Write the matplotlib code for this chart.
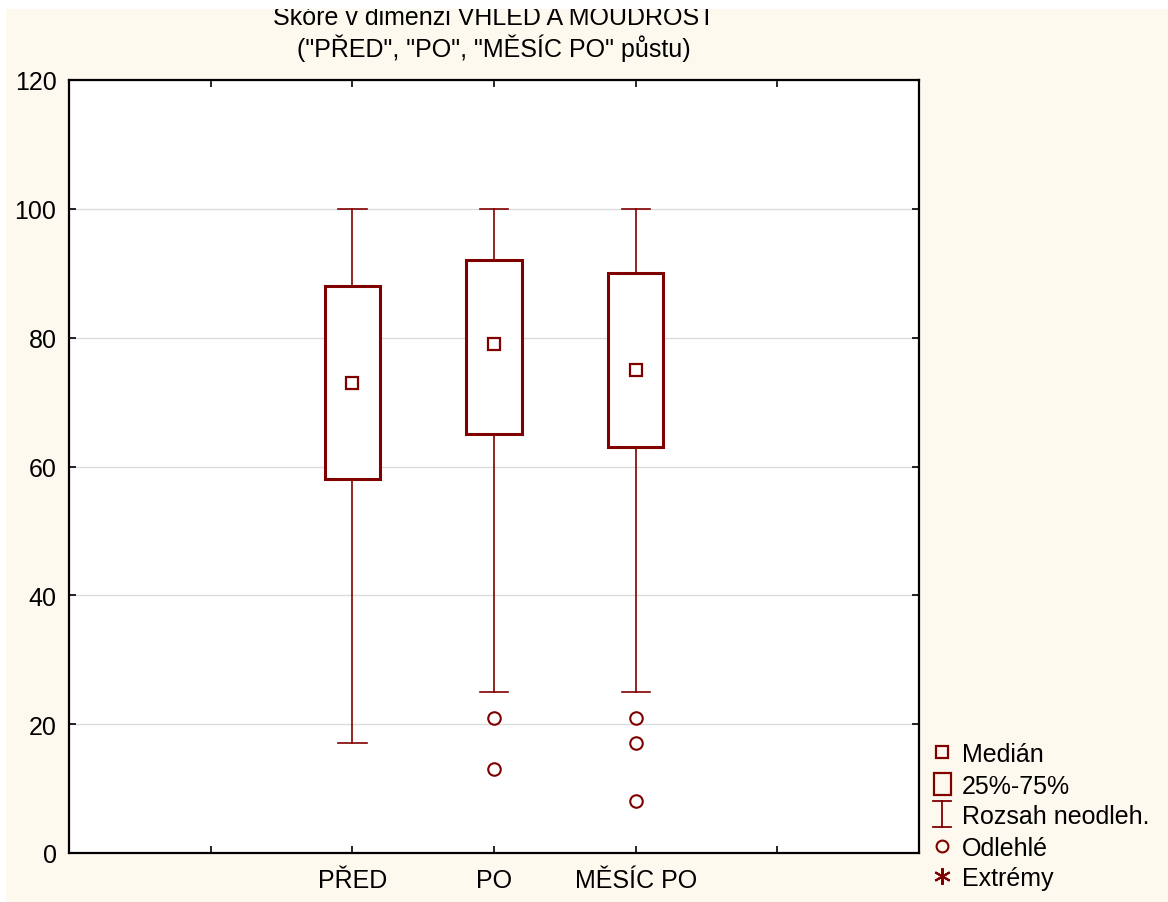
import matplotlib
matplotlib.use("Agg")
import matplotlib.pyplot as plt
from matplotlib.patches import Rectangle
from matplotlib.lines import Line2D

plt.rcParams['font.family'] = ['Liberation Sans', 'DejaVu Sans']

# ---- data ----
categories = ["PŘED", "PO", "MĚSÍC PO"]
medians = [73, 79, 75]
q1 = [58, 65, 63]
q3 = [88, 92, 90]
whisker_low = [17, 25, 25]
whisker_high = [100, 100, 100]
outliers = [[], [21, 13], [21, 17, 8]]
title_line1 = "Skóre v dimenzi VHLED A MOUDROST"
title_line2 = '("PŘED", "PO", "MĚSÍC PO" půstu)'
legend_labels = ["Medián", "25%-75%", "Rozsah neodleh.", "Odlehlé", "Extrémy"]
yticks = [0, 20, 40, 60, 80, 100, 120]

RED = "#800000"
CREAM = "#FEF9EF"
W, H = 1168, 903

fig = plt.figure(figsize=(W / 100, H / 100), dpi=100)
fig.patch.set_facecolor("white")
fig.patches.append(Rectangle((6 / W, 0), 1 - 6 / W, (H - 10) / H,
                             transform=fig.transFigure, facecolor=CREAM,
                             edgecolor="none", zorder=-10))

ax = fig.add_axes([69 / W, 49 / H, 850 / W, 773 / H])
ax.set_facecolor("white")

positions = [2, 3, 4]
stats = []
for i, c in enumerate(categories):
    stats.append(dict(label=c, med=medians[i], q1=q1[i], q3=q3[i],
                      whislo=whisker_low[i], whishi=whisker_high[i],
                      fliers=outliers[i]))

ax.bxp(stats, positions=positions, widths=0.39, capwidths=0.2,
       patch_artist=True, showfliers=True,
       boxprops=dict(facecolor="white", edgecolor=RED, linewidth=2.2),
       whiskerprops=dict(color=RED, linewidth=1.2),
       capprops=dict(color=RED, linewidth=1.2),
       medianprops=dict(linestyle="none"),
       flierprops=dict(marker="o", markersize=9, markerfacecolor="none",
                       markeredgecolor=RED, markeredgewidth=1.5))
ax.plot(positions, medians, linestyle="none", marker="s", markersize=8.5,
        markerfacecolor="none", markeredgecolor=RED, markeredgewidth=1.6,
        zorder=5)

ax.set_xlim(0, 6)
ax.set_ylim(0, 120)
ax.set_xticks([1, 2, 3, 4, 5])
ax.set_xticklabels(["", "PŘED", "PO", "MĚSÍC PO", ""], fontsize=18)
ax.set_yticks(yticks)
ax.set_yticklabels([str(v) for v in yticks], fontsize=18)
ax.tick_params(direction="in", length=5, width=1.2, top=True, right=True,
               colors="black")
ax.tick_params(axis="y", pad=9)
ax.tick_params(axis="x", pad=11)
ax.grid(axis="y", color="#dcdcdc", linewidth=1.0)
ax.set_axisbelow(True)
for s in ax.spines.values():
    s.set_linewidth(1.6)
    s.set_color("black")

# title
fig.text(494 / W, 1 - 25 / H, title_line1, ha="center", va="baseline",
         fontsize=18)
fig.text(494 / W, 1 - 57 / H, title_line2, ha="center", va="baseline",
         fontsize=18)
# white strip that clips the top of the title
fig.patches.append(Rectangle((0, 1 - 10 / H), 1, 10 / H,
                             transform=fig.transFigure, facecolor="white",
                             edgecolor="none", zorder=10))

# legend (manual)
rows_y = [753, 785, 815, 847, 877]
mx = 942
tx = 962
for lab, yy in zip(legend_labels, rows_y):
    fig.text(tx / W, 1 - yy / H, lab, ha="left", va="center_baseline",
             fontsize=18)
fy = lambda yy: 1 - yy / H
fx = lambda xx: xx / W
fig.add_artist(Line2D([fx(mx)], [fy(rows_y[0])], marker="s", markersize=8.5,
                      markerfacecolor="none", markeredgecolor=RED,
                      markeredgewidth=1.6, transform=fig.transFigure))
fig.add_artist(Rectangle((fx(mx - 8.5), fy(rows_y[1] + 11)), 17 / W, 22 / H,
                         transform=fig.transFigure, facecolor="none",
                         edgecolor=RED, linewidth=1.6))
x0, x1 = fx(mx - 9), fx(mx + 9)
ytop, ybot = fy(rows_y[2] - 13), fy(rows_y[2] + 13)
fig.add_artist(Line2D([x0, x1], [ytop, ytop], color=RED, linewidth=1.3,
                      transform=fig.transFigure))
fig.add_artist(Line2D([x0, x1], [ybot, ybot], color=RED, linewidth=1.3,
                      transform=fig.transFigure))
fig.add_artist(Line2D([fx(mx), fx(mx)], [ytop, ybot], color=RED, linewidth=1.3,
                      transform=fig.transFigure))
fig.add_artist(Line2D([fx(mx)], [fy(rows_y[3])], marker="o", markersize=8.5,
                      markerfacecolor="none", markeredgecolor=RED,
                      markeredgewidth=1.5, transform=fig.transFigure))
fig.add_artist(Line2D([fx(mx)], [fy(rows_y[4])], marker=(6, 2, 0),
                      markersize=12, markeredgecolor=RED, markeredgewidth=1.5,
                      transform=fig.transFigure))

fig.savefig("out.png", dpi=100)
